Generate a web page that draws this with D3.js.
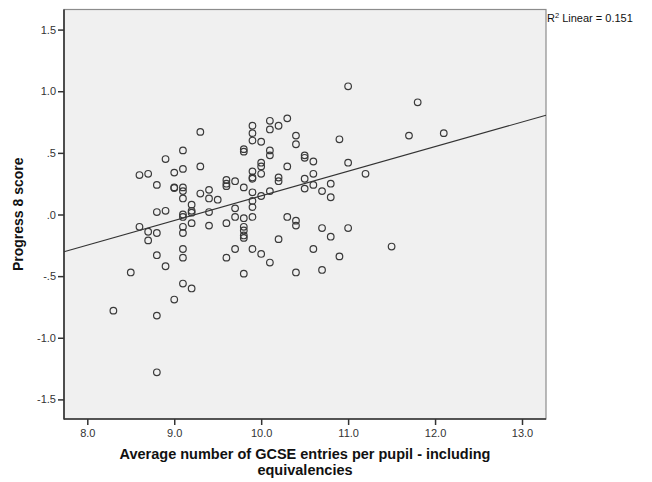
<!DOCTYPE html>
<html><head><meta charset="utf-8">
<script src="https://cdn.jsdelivr.net/npm/d3@7"></script>
<style>body{margin:0;background:#fff}</style>
</head><body>
<svg id="c" width="652" height="482"></svg>
<script>
const gcseEntries = [8.3,8.5,8.6,8.6,8.7,8.7,8.7,8.8,8.8,8.8,8.8,8.8,8.8,8.9,8.9,8.9,9.0,9.0,9.0,9.0,
9.1,9.1,9.1,9.1,9.1,9.1,9.1,9.1,9.1,9.1,9.1,9.1,9.2,9.2,9.2,9.2,9.2,9.3,9.3,9.3,
9.4,9.4,9.4,9.4,9.5,9.6,9.6,9.6,9.6,9.6,9.7,9.7,9.7,9.7,9.8,9.8,9.8,9.8,9.8,9.8,9.8,9.8,9.8,
9.9,9.9,9.9,9.9,9.9,9.9,9.9,9.9,9.9,9.9,9.9,10.0,10.0,10.0,10.0,10.0,10.0,
10.1,10.1,10.1,10.1,10.1,10.1,10.2,10.2,10.2,10.2,10.3,10.3,10.3,10.4,10.4,10.4,10.4,10.4,
10.5,10.5,10.5,10.5,10.6,10.6,10.6,10.6,10.7,10.7,10.7,10.8,10.8,10.8,10.9,10.9,
11.0,11.0,11.0,11.2,11.5,11.7,11.8,12.1];
const progress8 = [-0.78,-0.47,0.32,-0.10,0.33,-0.14,-0.21,0.24,0.02,-0.15,-0.33,-0.82,-1.28,0.45,0.03,-0.42,0.34,0.22,0.215,-0.69,
0.52,0.37,0.22,0.19,0.13,0.00,-0.02,-0.10,-0.15,-0.28,-0.35,-0.56,0.08,0.03,0.015,-0.07,-0.60,0.67,0.39,0.17,
0.20,0.13,0.02,-0.09,0.12,0.28,0.25,0.23,-0.07,-0.35,0.27,0.05,-0.02,-0.28,0.53,0.51,0.22,-0.03,-0.10,-0.13,-0.17,-0.19,-0.48,
0.72,0.66,0.60,0.35,0.30,0.29,0.18,0.11,0.06,-0.02,-0.28,0.59,0.42,0.39,0.33,0.15,-0.32,
0.76,0.69,0.52,0.48,0.19,-0.39,0.72,0.30,0.27,-0.20,0.78,0.39,-0.02,0.64,0.57,-0.05,-0.09,-0.47,
0.48,0.46,0.29,0.21,0.43,0.33,0.24,-0.28,0.19,-0.11,-0.45,0.25,0.14,-0.18,0.61,-0.34,
1.04,0.42,-0.11,0.33,-0.26,0.64,0.91,0.66];
const xTicks = [8,9,10,11,12,13];
const xTickLabels = ["8.0","9.0","10.0","11.0","12.0","13.0"];
const yTicks = [1.5,1.0,0.5,0.0,-0.5,-1.0,-1.5];
const yTickLabels = ["1.5","1.0",".5",".0","-.5","-1.0","-1.5"];
const fitIntercept = -1.846;
const fitSlope = 0.1997;
const rSquared = "0.151";
const xTitle = ["Average number of GCSE entries per pupil - including","equivalencies"];
const yTitle = "Progress 8 score";

const L=64,T=9.5,R=546,B=419;
const x = d3.scaleLinear().domain([7.732,13.276]).range([L,R]);
const y = d3.scaleLinear().domain([-1.659,1.663]).range([B,T]);
const svg = d3.select("#c");
const font = "'Liberation Sans', Arial, sans-serif";

svg.append("rect").attr("x",L).attr("y",T).attr("width",R-L).attr("height",B-T)
  .attr("fill","#f0f0f0").attr("stroke","#8c8c8c").attr("stroke-width",1.2);

// regression line
const fx = x.domain();
svg.append("line")
  .attr("x1",x(fx[0])).attr("y1",y(fitIntercept+fitSlope*fx[0]))
  .attr("x2",x(fx[1])).attr("y2",y(fitIntercept+fitSlope*fx[1]))
  .attr("stroke","#333").attr("stroke-width",1.1);

// points
svg.append("g").selectAll("circle").data(gcseEntries).join("circle")
  .attr("cx",(d)=>x(d)).attr("cy",(d,i)=>y(progress8[i])).attr("r",3.3)
  .attr("fill","none").attr("stroke","#3a3a3a").attr("stroke-width",1.2);

// axes
const xa = svg.append("g").attr("transform",`translate(0,${B})`)
  .call(d3.axisBottom(x).tickValues(xTicks).tickFormat((d,i)=>xTickLabels[i]).tickSizeOuter(0).tickSize(6).tickPadding(4));
const ya = svg.append("g").attr("transform",`translate(${L},0)`)
  .call(d3.axisLeft(y).tickValues(yTicks).tickFormat((d,i)=>yTickLabels[i]).tickSizeOuter(0).tickSize(6).tickPadding(2));
[xa,ya].forEach(g=>{
  g.select(".domain").remove();
  g.selectAll(".tick line").attr("stroke","#333").attr("stroke-width",1.5);
  g.selectAll(".tick text").attr("fill","#333").style("font-family",font).style("font-size","11px");
});
svg.append("line").attr("x1",L).attr("x2",L).attr("y1",T).attr("y2",B+0.5).attr("stroke","#333").attr("stroke-width",1.6);
svg.append("line").attr("x1",L).attr("x2",R).attr("y1",B).attr("y2",B).attr("stroke","#333").attr("stroke-width",1.6);

// titles
const xt = svg.append("text").attr("text-anchor","middle").style("font-family",font)
  .style("font-size","14.5px").style("font-weight","bold").attr("fill","#111");
xTitle.forEach((t,i)=>xt.append("tspan").attr("x",(L+R)/2).attr("y",459+i*15.5).text(t));
svg.append("text").attr("transform",`translate(23,${(T+B)/2}) rotate(-90)`).attr("text-anchor","middle")
  .style("font-family",font).style("font-size","14px").style("font-weight","bold").attr("fill","#111").text(yTitle);

const rt = svg.append("text").attr("x",R+1).attr("y",22).style("font-family",font).style("font-size","11px").attr("fill","#111");
rt.append("tspan").text("R");
rt.append("tspan").attr("dy",-4).style("font-size","7.5px").text("2");
rt.append("tspan").attr("dy",4).text(" Linear = " + rSquared);
</script>
</body></html>
